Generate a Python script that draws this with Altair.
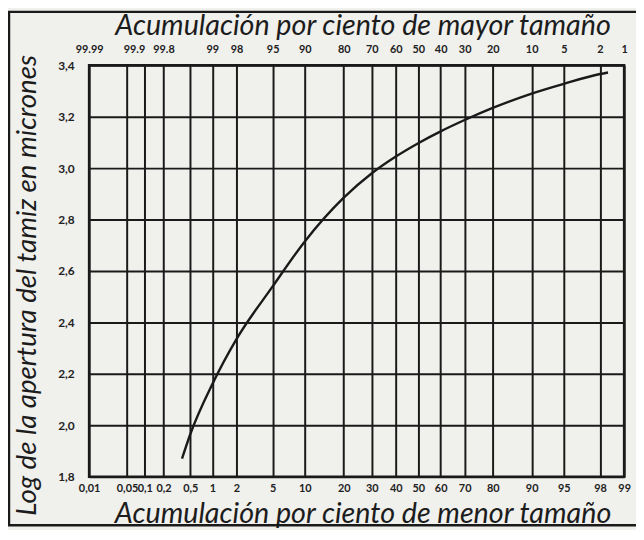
import altair as alt
import pandas as pd
from statistics import NormalDist

# ---- data ----
curve_pct = [0.38, 0.5, 1, 2, 5, 10, 20, 30, 40, 50, 60, 70, 80, 90, 95, 98, 98.4]
curve_log = [1.87, 1.965, 2.16, 2.335, 2.54, 2.715, 2.885, 2.98, 3.045, 3.097, 3.143, 3.187, 3.234, 3.29, 3.328, 3.366, 3.372]

grid_pct = [0.01, 0.05, 0.1, 0.2, 0.5, 1, 2, 5, 10, 20, 30, 40, 50, 60, 70, 80, 90, 95, 98, 99]
top_pct = [0.01, 0.1, 0.2, 1, 2, 5, 10, 20, 30, 40, 50, 60, 70, 80, 90, 95, 98, 99]
y_ticks = [1.8, 2.0, 2.2, 2.4, 2.6, 2.8, 3.0, 3.2, 3.4]

title_top = "Acumulación por ciento de mayor tamaño"
title_bottom = "Acumulación por ciento de menor tamaño"
title_y = "Log de la apertura del tamiz en micrones"

nd = NormalDist()
def probit(p):
    return nd.inv_cdf(p / 100.0)

grid_z = [probit(p) for p in grid_pct]
top_z = [probit(p) for p in top_pct]
x_dom = [probit(grid_pct[0]), probit(grid_pct[-1])]

df = pd.DataFrame({"pct": curve_pct, "logv": curve_log})

W, H = 541, 416
PL, PT, PR, PB = 82, 55, 12, 51
INK = "#1a1a1a"
TFONT = "Lato"
LFONT = "Lato"

xscale = alt.Scale(domain=x_dom, nice=False, zero=False)
yscale = alt.Scale(domain=[y_ticks[0], y_ticks[-1]], nice=False, zero=False)

base = alt.Chart(df).transform_calculate(z="quantileNormal(datum.pct / 100)")

line = base.mark_line(color=INK, strokeWidth=2.4, interpolate="monotone").encode(
    x=alt.X("z:Q", scale=xscale,
            axis=alt.Axis(orient="bottom", values=grid_z, title=title_bottom,
                          labelExpr="replace(format(cumulativeNormal(datum.value) * 100, '.2~r'), '.', ',')",
                          grid=True, labelPadding=6, labelFontSize=11,
                          titleX=W / 2 + 6, titleY=46, titleBaseline="alphabetic")),
    y=alt.Y("logv:Q", scale=yscale,
            axis=alt.Axis(values=y_ticks, title=title_y,
                          labelExpr="replace(format(datum.value, '.1f'), '.', ',')",
                          grid=True, labelPadding=15, labelFontSize=12,
                          titleFontSize=28,
                          titleX=-62, titleY=222, titleBaseline="middle")),
)

top = base.mark_point(opacity=0).encode(
    x=alt.X("z:Q", scale=xscale,
            axis=alt.Axis(orient="top", values=top_z, title=title_top,
                          labelExpr="format(100 - cumulativeNormal(datum.value) * 100, '.4~r')",
                          labelAlign={"condition": {"test": "abs(datum.value + 3.09) < 0.01", "value": "right"},
                                      "value": "center"},
                          grid=False, labelPadding=11, labelFontSize=11,
                          titleY=-31, titleX=W / 2 + 6, titleBaseline="alphabetic")),
)

frame = alt.Chart(alt.Data(values=[{"f": 1}])).mark_rect(
    fillOpacity=0, stroke=INK, strokeWidth=2.5, clip=False
).encode(
    x=alt.value(-(PL - 1)), x2=alt.value(W + 40),
    y=alt.value(-(PT - 1)), y2=alt.value(H + PB - 2),
)

chart = alt.layer(frame, line, top).resolve_axis(x="independent").properties(
    width=W, height=H,
    autosize=alt.AutoSizeParams(type="none"),
    padding={"left": PL, "top": PT, "right": PR, "bottom": PB},
    background="#f0f0ed",
).configure_view(
    stroke=INK, strokeWidth=2.5
).configure_axis(
    domain=False, ticks=False,
    gridColor=INK, gridWidth=2, gridOpacity=1,
    labelFont=LFONT, labelFontWeight="bold", labelColor="#222",
    labelOverlap=False, labelFlush=False, labelBound=False,
    titleFont=TFONT, titleFontStyle="italic", titleFontWeight="normal",
    titleFontSize=29, titleColor="#1c1c1c",
)

chart.save("out.html", embed_options={"renderer": "svg", "actions": False})
